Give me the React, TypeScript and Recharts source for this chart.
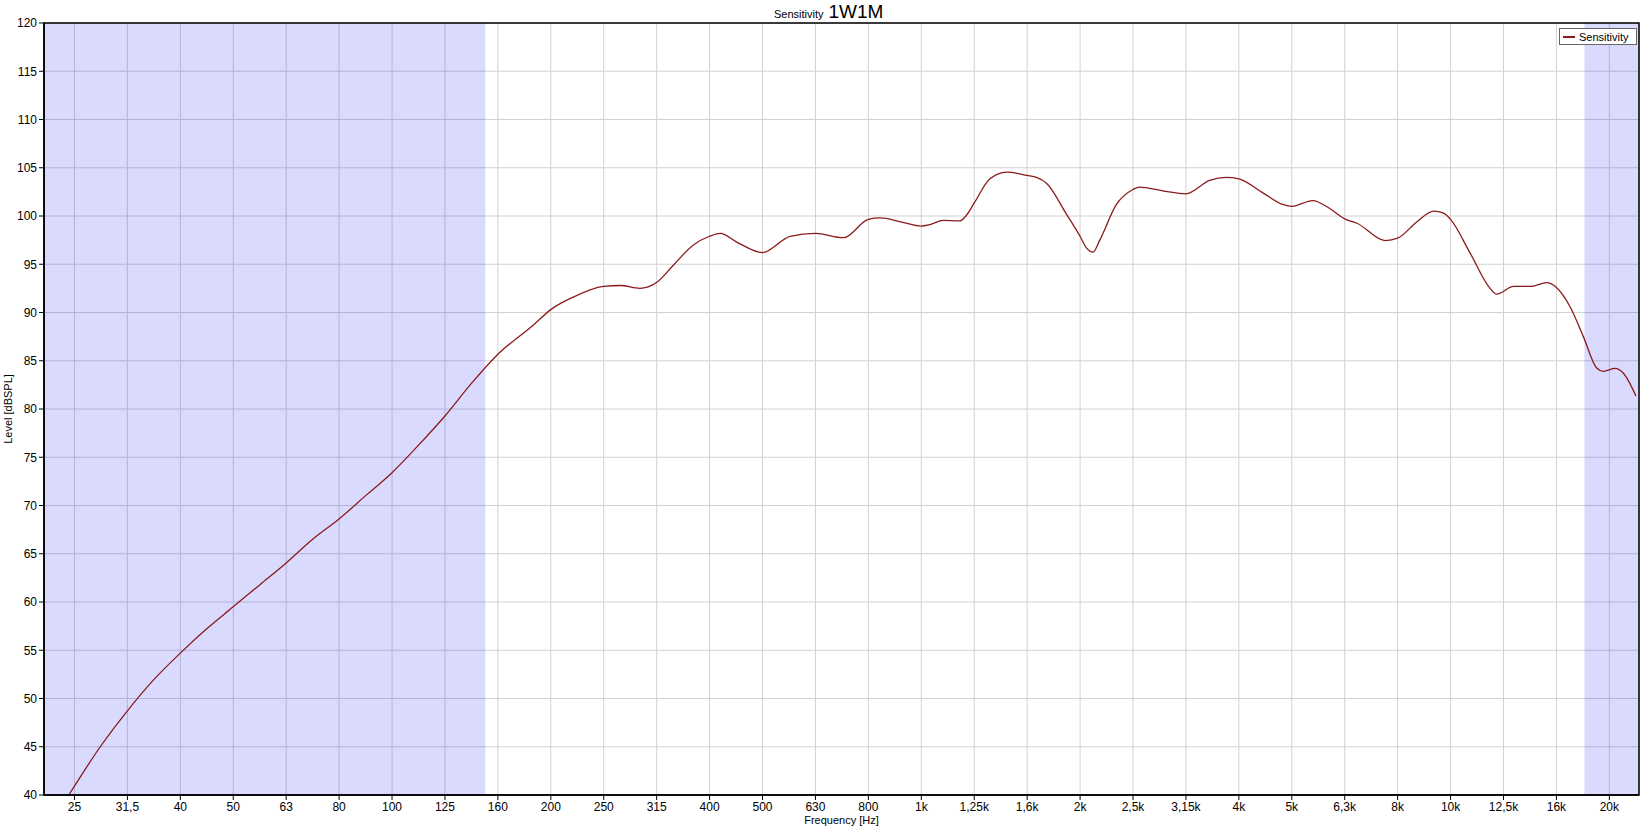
import { LineChart, Line, XAxis, YAxis, CartesianGrid, ReferenceArea } from 'recharts'

const freqHz = [
  24.5, 25.1, 28.1, 31.6, 35.4, 39.8, 44.6, 50.1, 56.3, 63.1, 70.8, 79.4, 89.5, 100, 112, 126, 141, 158,
  185, 199.5, 220, 251, 270, 294, 316, 340, 371, 398, 417, 448, 501, 565, 631, 713, 794, 836, 915, 1000,
  1038, 1100, 1183, 1218, 1259, 1348, 1449, 1585, 1651, 1724, 1880, 1995, 2051, 2111, 2174, 2337, 2512,
  2586, 2861, 3162, 3505, 3768, 3981, 4419, 4819, 5012, 5490, 5902, 6310, 6657, 7527, 7943, 8640, 9290,
  9700, 10000, 10890, 11880, 12230, 13150, 14140, 15200, 15850, 16820, 17820, 18880, 19440, 20450, 21210,
  22400,
]
const levelDb = [
  40.0, 40.9, 45.0, 48.7, 51.9, 54.7, 57.2, 59.5, 61.8, 64.05, 66.5, 68.6, 71.1, 73.4, 76.2, 79.3, 82.6, 85.6,
  88.7, 90.3, 91.6, 92.7, 92.8, 92.5, 93.1, 94.9, 97.0, 97.9, 98.2, 97.3, 96.2, 97.9, 98.2, 97.75, 99.65, 99.8, 99.4, 98.95,
  99.1, 99.55, 99.5, 100.1, 101.35, 103.85, 104.55, 104.2, 104.0, 103.4, 100.2, 97.9, 96.7, 96.25, 97.5, 101.2, 102.75,
  103.0, 102.6, 102.3, 103.7, 104.0, 103.85, 102.4, 101.2, 101.0, 101.6, 100.8, 99.7, 99.25, 97.45, 97.7, 99.4, 100.5,
  100.3, 99.65, 96.15, 92.5, 91.9, 92.7, 92.7, 93.1, 92.6, 90.6, 87.5, 84.25, 83.9, 84.2, 83.7,
  81.35,
]

const nominalHz = [
  25, 31.5, 40, 50, 63, 80, 100, 125, 160, 200, 250, 315, 400, 500, 630, 800, 1000, 1250, 1600, 2000,
  2500, 3150, 4000, 5000, 6300, 8000, 10000, 12500, 16000, 20000,
]
const tickLabels = [
  '25', '31,5', '40', '50', '63', '80', '100', '125', '160', '200', '250', '315', '400', '500', '630', '800',
  '1k', '1,25k', '1,6k', '2k', '2,5k', '3,15k', '4k', '5k', '6,3k', '8k', '10k', '12,5k', '16k', '20k',
]
const levelTicks = [40, 45, 50, 55, 60, 65, 70, 75, 80, 85, 90, 95, 100, 105, 110, 115, 120]
const shadedBands = [[22, 150], [17900, 22700]]

const FONT = '"Liberation Sans", Arial, sans-serif'
const X_DOMAIN = [22, 22700]

// third-octave preferred numbers sit on exact 10^(n/10) positions
const xTicks = nominalHz.map(f => 10 ** (Math.round(Math.log10(f) * 10) / 10))
const data = freqHz.map((f, i) => ({ f, db: levelDb[i] }))

const fmtTick = (v: number) => {
  const i = xTicks.findIndex(t => Math.abs(t - v) / t < 0.01)
  return i >= 0 ? tickLabels[i] : ''
}

export default function App() {
  return (
    <div style={{ position: 'absolute', left: 0, top: 0, width: 1644, height: 827, background: '#fff', fontFamily: FONT }}>
      <div style={{ position: 'absolute', left: 774, top: 1, display: 'flex', alignItems: 'baseline', gap: 5, color: '#000' }}>
        <span style={{ fontSize: 11 }}>Sensitivity</span>
        <span style={{ fontSize: 19 }}>1W1M</span>
      </div>

      <LineChart width={1644} height={827} data={data} margin={{ top: 23, right: 5, bottom: 0, left: 0 }}>
        {shadedBands.map(([a, b]) => (
          <ReferenceArea key={a} x1={a} x2={b} y1={40} y2={120} fill="#0000ff" fillOpacity={0.145} stroke="none" />
        ))}
        <CartesianGrid stroke="#d2d2d2" strokeOpacity={1} />
        <XAxis
          dataKey="f" type="number" scale="log" domain={X_DOMAIN} allowDataOverflow
          ticks={xTicks} interval={0} tickFormatter={fmtTick} height={32} tickSize={5}
          axisLine={{ stroke: '#000', strokeWidth: 1.5 }} tickLine={{ stroke: '#000' }}
          tick={{ fill: '#000', fontSize: 12, fontFamily: FONT }}
          label={{ value: 'Frequency [Hz]', position: 'insideBottom', offset: 3, fontSize: 11, fill: '#000', fontFamily: FONT }}
        />
        <YAxis
          type="number" domain={[40, 120]} ticks={levelTicks} interval={0} width={44} tickSize={5}
          axisLine={{ stroke: '#000', strokeWidth: 1.5 }} tickLine={{ stroke: '#000' }}
          tick={{ fill: '#000', fontSize: 12, fontFamily: FONT }}
          label={{ value: 'Level [dBSPL]', angle: -90, position: 'insideLeft', offset: 8, fontSize: 11, fill: '#000', fontFamily: FONT, style: { textAnchor: 'middle' } }}
        />
        <ReferenceArea x1={X_DOMAIN[0]} x2={X_DOMAIN[1]} y1={40} y2={120} fill="none" stroke="#000" strokeWidth={1.5} />
        <Line type="monotone" dataKey="db" stroke="#8b1a1a" strokeWidth={1.3} dot={false} isAnimationActive={false} />
      </LineChart>

      <div style={{
        position: 'absolute', left: 1559, top: 28, width: 76, height: 15, border: '1px solid #666',
        background: '#fff', display: 'flex', alignItems: 'center', fontSize: 11, color: '#000',
      }}>
        <span style={{ display: 'inline-block', width: 12, height: 2, background: '#8b1a1a', margin: '0 4px 0 3px' }} />
        Sensitivity
      </div>
    </div>
  )
}
